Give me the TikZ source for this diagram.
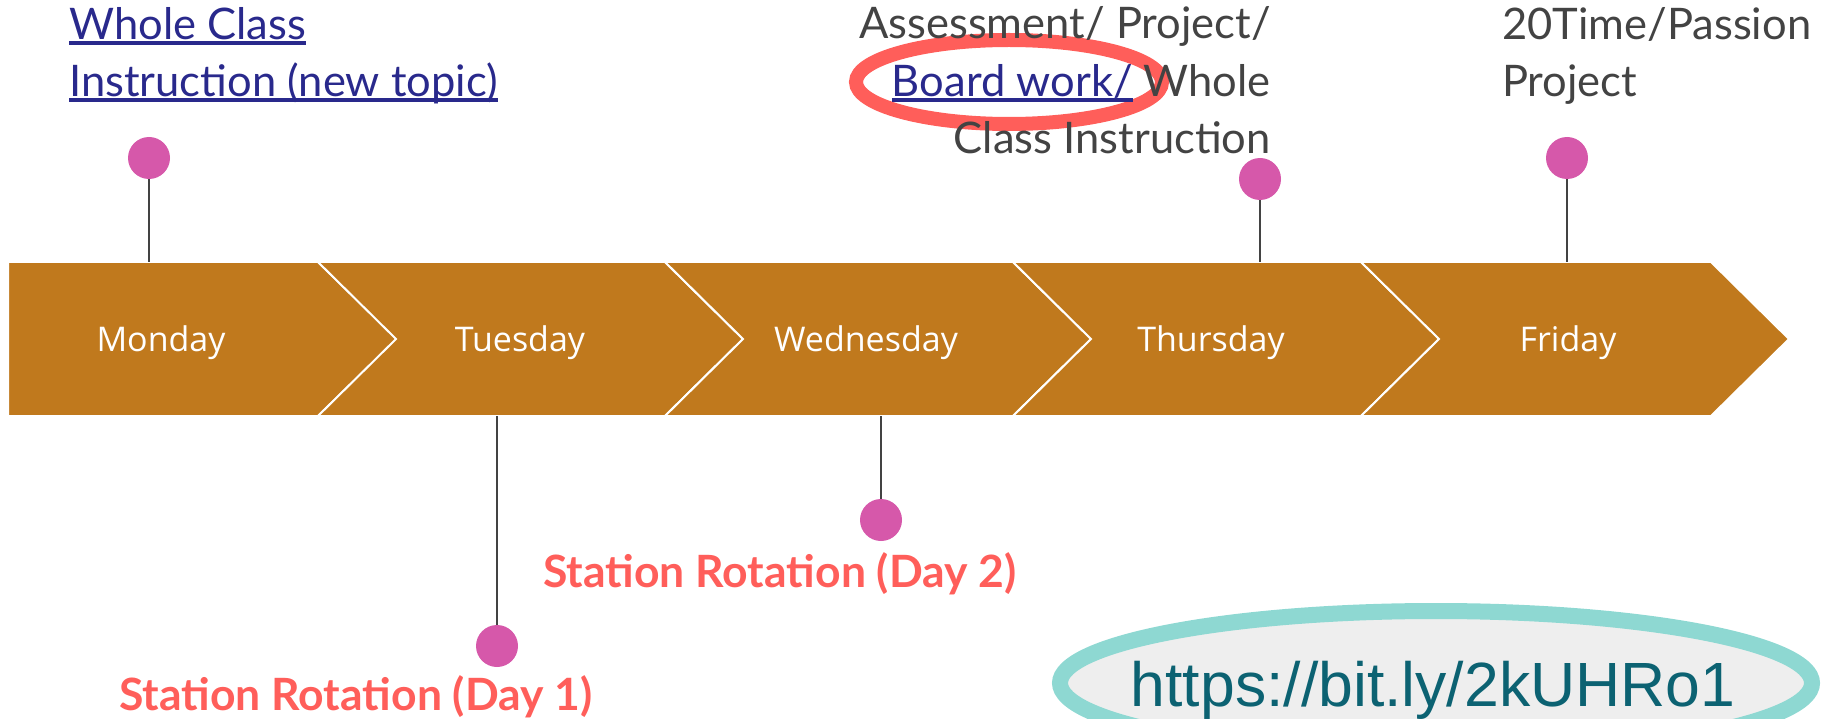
\documentclass[tikz,border=0pt]{standalone}
\usepackage{fontspec}
\setmainfont{Lato}
\newfontfamily\dayfont{Open Sans}
\newfontfamily\urlfont{Liberation Sans}
\definecolor{bandbrown}{RGB}{192,121,29}
\definecolor{pinpink}{RGB}{214,88,170}
\definecolor{linkblue}{RGB}{41,41,140}
\definecolor{notegray}{RGB}{67,67,67}
\definecolor{coral}{RGB}{255,94,90}
\definecolor{urlteal}{RGB}{12,98,114}
\definecolor{ringteal}{RGB}{142,216,210}
\definecolor{ringfill}{RGB}{238,238,238}
\newsavebox{\linkbox}
\newcommand{\linkul}[1]{\sbox{\linkbox}{#1}\rlap{\rule[-5.5pt]{\wd\linkbox}{4pt}}\usebox{\linkbox}}

\begin{document}
\begin{tikzpicture}[x=1pt,y=-1pt,
  every node/.style={inner sep=0pt},
  day/.style={font=\dayfont\fontsize{34}{40}\selectfont,text=white,anchor=base},
  pin/.style={circle,fill=pinpink,minimum size=42pt},
  stem/.style={draw=notegray,line width=2pt},
  note/.style={font=\fontsize{43.5}{57.5}\selectfont,text=notegray,anchor=base west,align=left},
  rotation/.style={font=\bfseries\fontsize{44.5}{50}\selectfont,text=coral,anchor=base west}]
  \useasboundingbox (0,0) rectangle (1822,719);
  % the week band
  \fill[bandbrown,draw=white,line width=2pt] (8,262) -- (318,262) -- (397,339) -- (318,416) -- (8,416) -- cycle;
  \foreach \l/\r in {318/665,665/1013,1013/1361,1361/1711}
    \fill[bandbrown,draw=white,line width=2pt] (\l,262) -- (\r,262) -- ({\r+78},339)
      -- (\r,416) -- (\l,416) -- ({\l+78},339) -- cycle;
  \coordinate (bandtop) at (0,262);
  \coordinate (bandbot) at (0,416);
  \node[day] (monday) at (161,351) {Monday};
  \node[day] (tuesday) at (520,351) {Tuesday};
  \node[day] (wednesday) at (866,351) {Wednesday};
  \node[day] (thursday) at (1211,351) {Thursday};
  \node[day] (friday) at (1568,351) {Friday};
  % pins
  \node[pin] (pinmon) at (149,158) {};
  \node[pin] (pintue) at (497,646) {};
  \node[pin] (pinwed) at (881,520) {};
  \node[pin] (pinthu) at (1260,179) {};
  \node[pin] (pinfri) at (1567,158) {};
  \draw[stem] (pinmon) -- (pinmon |- bandtop);
  \draw[stem] (pintue) -- (pintue |- bandbot);
  \draw[stem] (pinwed) -- (pinwed |- bandbot);
  \draw[stem] (pinthu) -- (pinthu |- bandtop);
  \draw[stem] (pinfri) -- (pinfri |- bandtop);
  % notes
  \draw[coral,line width=14pt] (1009,82) ellipse [x radius=153,y radius=42];
  \node[note,text=linkblue] (wholeclass) at (69,97) {\linkul{Whole Class}\\\linkul{Instruction (new topic)}};
  \node[note,anchor=base east,align=right] (assess) at (1271,154)
    {Assessment/ Project/\\\textcolor{linkblue}{\linkul{Board work/}} Whole\\Class Instruction};
  \node[note] (passion) at (1502,97) {20Time/Passion\\Project};
  \node[rotation] (rottwo) at (543,587) {Station Rotation (Day 2)};
  \node[rotation] (rotone) at (119,710) {Station Rotation (Day 1)};
  \draw[ringteal,fill=ringfill,line width=16pt] (1436,683) ellipse [x radius=376,y radius=72];
  \node[font=\urlfont\fontsize{62.5}{70}\selectfont,text=urlteal,anchor=base] (url) at (1433,706) {https://bit.ly/2kUHRo1};
\end{tikzpicture}
\end{document}
